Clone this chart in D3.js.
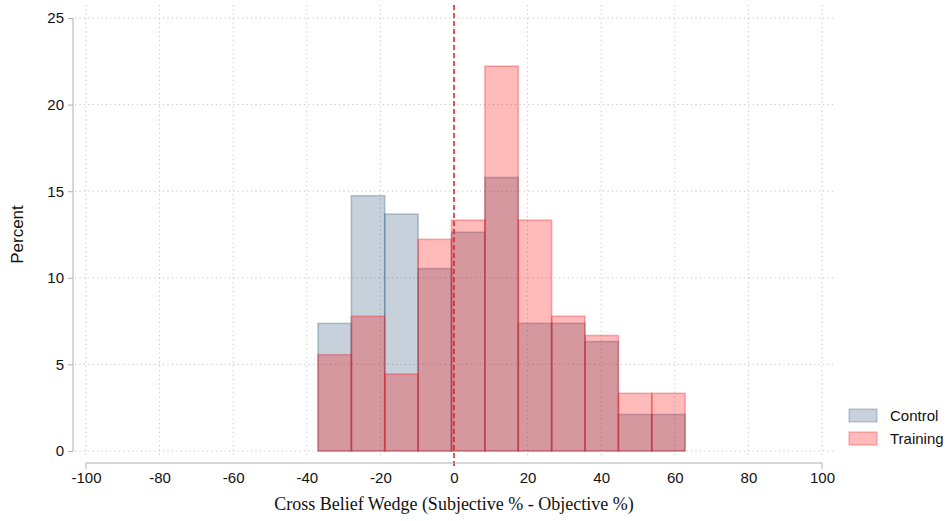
<!DOCTYPE html>
<html>
<head>
<meta charset="utf-8">
<script src="https://cdn.jsdelivr.net/npm/d3@7"></script>
<style>
  html, body { margin: 0; padding: 0; background: #fff; }
  svg { display: block; }
</style>
</head>
<body>
<svg id="chart" width="950" height="521"></svg>
<script>
// ---- data ----
const binStart = -36.96;
const binWidth = 9.07;
const controlPct = [7.37, 14.74, 13.68, 10.53, 12.63, 15.79, 7.37, 7.37, 6.32, 2.11, 2.11];
const trainingPct = [5.56, 7.78, 4.44, 12.22, 13.33, 22.22, 13.33, 7.78, 6.67, 3.33, 3.33];
const xTicks = [-100, -80, -60, -40, -20, 0, 20, 40, 60, 80, 100];
const yTicks = [0, 5, 10, 15, 20, 25];
const seriesNames = ["Control", "Training"];
const refLine = 0;

// ---- setup ----
const svg = d3.select("#chart");
const x = d3.scaleLinear().domain([-100, 100]).range([86, 822]);
const y = d3.scaleLinear().domain([0, 25]).range([451, 18]);

const colors = {
  Control: { fill: "rgba(26,71,111,0.25)", stroke: "rgba(26,71,111,0.28)" },
  Training: { fill: "rgba(255,0,0,0.27)", stroke: "rgba(235,30,40,0.33)" }
};

// gridlines
const grid = svg.append("g");
grid.selectAll("line.h").data(yTicks).join("line")
  .attr("x1", 75).attr("x2", 833)
  .attr("y1", d => y(d)).attr("y2", d => y(d))
  .attr("stroke", "#c4c4c4").attr("stroke-width", 1).attr("stroke-dasharray", "1.2,3.2");
grid.selectAll("line.v").data(xTicks).join("line")
  .attr("x1", d => x(d)).attr("x2", d => x(d))
  .attr("y1", 5).attr("y2", 458)
  .attr("stroke", "#c4c4c4").attr("stroke-width", 1).attr("stroke-dasharray", "1.2,3.2");

// bars
function bins(arr) {
  return arr.map((v, i) => ({ x0: binStart + i * binWidth, x1: binStart + (i + 1) * binWidth, v }));
}
function drawBars(arr, name) {
  svg.append("g").selectAll("rect").data(bins(arr)).join("rect")
    .attr("x", d => x(d.x0))
    .attr("y", d => y(d.v))
    .attr("width", d => x(d.x1) - x(d.x0))
    .attr("height", d => y(0) - y(d.v))
    .attr("fill", colors[name].fill)
    .attr("stroke", colors[name].stroke)
    .attr("stroke-width", 1.6);
}
drawBars(controlPct, "Control");
drawBars(trainingPct, "Training");

// reference line
svg.append("line")
  .attr("x1", x(refLine)).attr("x2", x(refLine))
  .attr("y1", 5).attr("y2", 466)
  .attr("stroke", "#e2262c").attr("stroke-width", 1.6)
  .attr("stroke-dasharray", "5,3");

// y axis
const yAxis = d3.axisLeft(y).tickValues(yTicks).tickSize(5).tickPadding(4).tickFormat(d => String(d));
const gy = svg.append("g").attr("transform", "translate(73,0)").call(yAxis);
gy.select(".domain").attr("stroke", "#b0b0b0").attr("d", `M0,${y(25)}V${y(0)}`);
gy.selectAll(".tick line").attr("stroke", "#b0b0b0");
gy.selectAll(".tick text").attr("font-family", "Liberation Sans, Arial, sans-serif")
  .attr("font-size", 15).attr("fill", "#111");

// x axis
const xAxis = d3.axisBottom(x).tickValues(xTicks).tickSize(0).tickPadding(9).tickFormat(d => String(d));
const gx = svg.append("g").attr("transform", "translate(0,463)").call(xAxis);
gx.select(".domain").attr("stroke", "#b0b0b0").attr("d", `M${x(-100)},6V0H${x(100)}V6`);
gx.selectAll(".tick text").attr("font-family", "Liberation Sans, Arial, sans-serif")
  .attr("font-size", 15).attr("fill", "#111");

// axis titles
svg.append("text")
  .attr("transform", `translate(23,${y(12.5)}) rotate(-90)`)
  .attr("text-anchor", "middle")
  .attr("font-family", "Liberation Sans, Arial, sans-serif")
  .attr("font-size", 17).attr("fill", "#111")
  .text("Percent");
svg.append("text")
  .attr("x", x(0)).attr("y", 510)
  .attr("text-anchor", "middle")
  .attr("font-family", "Liberation Serif, Times New Roman, serif")
  .attr("font-size", 18).attr("fill", "#111")
  .text("Cross Belief Wedge (Subjective % - Objective %)");

// legend
const lg = svg.append("g");
seriesNames.forEach((name, i) => {
  const yy = 409 + i * 23;
  lg.append("rect").attr("x", 849).attr("y", yy).attr("width", 28).attr("height", 13)
    .attr("fill", colors[name].fill).attr("stroke", colors[name].stroke).attr("stroke-width", 1.2);
  lg.append("text").attr("x", 890).attr("y", yy + 12)
    .attr("font-family", "Liberation Sans, Arial, sans-serif")
    .attr("font-size", 15).attr("fill", "#111")
    .text(name);
});
</script>
</body>
</html>
